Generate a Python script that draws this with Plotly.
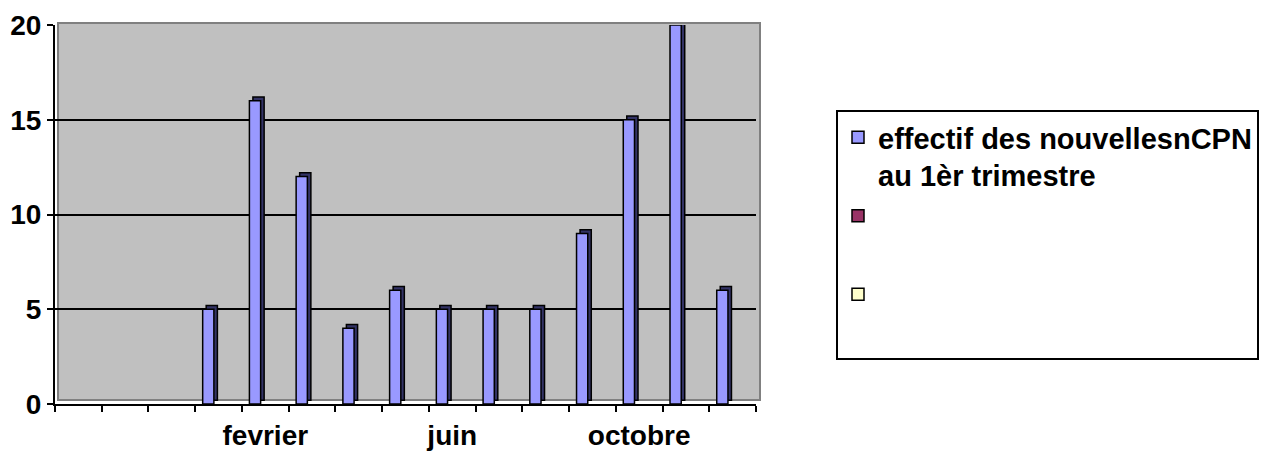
import plotly.graph_objects as go

# Monthly counts; the first three category slots carry no data
categories = ["", "", "", "janvier", "fevrier", "mars", "avril", "mai", "juin",
              "juillet", "aout", "septembre", "octobre", "novembre", "decembre"]
effectif = [None, None, None, 5, 16, 12, 4, 6, 5, 5, 5, 9, 15, 20, 6]
series_names = ["effectif des nouvellesnCPN<br>au 1èr trimestre", " <br> ", "  <br> "]
series_colors = ["#9999FF", "#993366", "#FFFFCC"]
y_ticks = [0, 5, 10, 15, 20]

x_pos = list(range(len(categories)))
tick_idx = x_pos[::4]
tick_text = [categories[i] for i in tick_idx]

FONT = "Liberation Sans, Arial, sans-serif"
BAR_W = 0.24
BAR_OFF = -0.34

fig = go.Figure()

# dark side/top faces of the pseudo-3D columns
fig.add_trace(go.Bar(
    x=x_pos, y=effectif, base=0.2,
    offset=BAR_OFF + 0.075, width=BAR_W,
    marker=dict(color="#333366", line=dict(color="black", width=1.5)),
    showlegend=False, hoverinfo="skip", cliponaxis=False,
))
# front faces
fig.add_trace(go.Bar(
    x=x_pos, y=effectif, name=series_names[0],
    offset=BAR_OFF, width=BAR_W,
    marker=dict(color=series_colors[0], line=dict(color="black", width=1.5)),
    legendgroup="a",
))
# two further series with no values
for i, grp in ((1, "b"), (2, "c")):
    fig.add_trace(go.Bar(
        x=x_pos, y=[None] * len(x_pos), name=series_names[i],
        offset=BAR_OFF, width=BAR_W,
        marker=dict(color=series_colors[i], line=dict(color="black", width=1.5)),
        legendgroup=grp,
    ))

# back wall of the 3D plot area
fig.add_shape(type="rect", xref="paper", yref="paper",
              x0=3 / 701, x1=1 + 4 / 701, y0=4 / 379, y1=1 + 2 / 379,
              fillcolor="#C0C0C0", line=dict(color="#808080", width=2),
              layer="below")

fig.update_layout(
    width=1263, height=453,
    margin=dict(l=55, r=507, t=25, b=49, autoexpand=False),
    paper_bgcolor="white", plot_bgcolor="rgba(0,0,0,0)",
    barmode="overlay",
    font=dict(family=FONT, color="black"),
    showlegend=True,
    legend=dict(
        x=(836 - 55) / 701, y=(404 - 110) / 379, xanchor="left", yanchor="top",
        bgcolor="white", bordercolor="black", borderwidth=2,
        font=dict(family=FONT, size=29, color="black", weight="bold"),
        tracegroupgap=0, valign="top", traceorder="grouped",
    ),
    xaxis=dict(
        range=[-0.5, len(categories) - 0.5],
        tickmode="array", tickvals=tick_idx, ticktext=tick_text,
        ticks="", ticklabelstandoff=5,
        tickfont=dict(family=FONT, size=28, weight="bold"),
        showline=True, linecolor="black", linewidth=2,
        showgrid=False, zeroline=False,
        minor=dict(tickmode="linear", tick0=-0.5, dtick=1, ticks="outside",
                   ticklen=6, tickwidth=2, tickcolor="black", showgrid=False),
    ),
    yaxis=dict(
        range=[0, 20], tickmode="array", tickvals=y_ticks,
        ticks="outside", ticklen=6, tickwidth=2, tickcolor="black",
        tickfont=dict(family=FONT, size=28, weight="bold"),
        showline=True, linecolor="black", linewidth=2,
        showgrid=True, gridcolor="black", gridwidth=2, zeroline=False,
    ),
)

fig.write_html("out.html")
